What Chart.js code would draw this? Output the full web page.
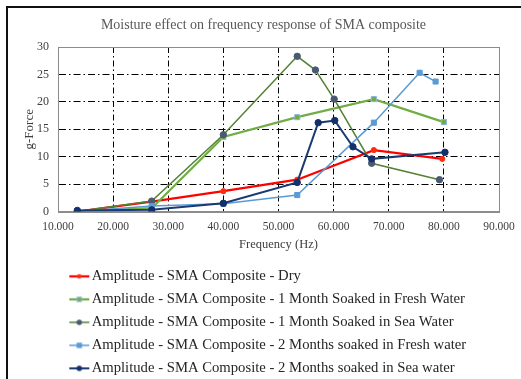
<!DOCTYPE html>
<html>
<head>
<meta charset="utf-8">
<script src="https://cdn.jsdelivr.net/npm/chart.js@4.4.1/dist/chart.umd.min.js"></script>
<style>
    html, body { margin: 0; padding: 0; background: #fff; overflow: hidden; }
    #wrap { position: relative; width: 521px; height: 392px; }
    #frame { position: absolute; left: 6px; top: 6px; width: 540px; height: 384px; border: 2px solid #111; box-sizing: border-box; pointer-events: none; }
</style>
</head>
<body>
<div id="wrap">
    <canvas id="freqChart" width="521" height="392"></canvas>
    <div id="frame"></div>
</div>
<script>
// Data
const seriesNames = [
    'Amplitude - SMA Composite - Dry',
    'Amplitude - SMA Composite - 1 Month Soaked in Fresh Water',
    'Amplitude - SMA Composite - 1 Month Soaked in Sea Water',
    'Amplitude - SMA Composite - 2 Months soaked in Fresh water',
    'Amplitude - SMA Composite - 2 Months soaked in Sea water'
];

const dryFreq = [13500, 27000, 40000, 53400, 67300, 79700];
const dryAmp = [0, 1.8, 3.7, 5.8, 11.2, 9.6];

const fresh1Freq = [13500, 27000, 40000, 53400, 67300, 80000];
const fresh1Amp = [0, 0.6, 13.6, 17.2, 20.5, 16.3];

const sea1Freq = [13500, 27000, 40000, 53400, 56700, 60100, 66900, 79200];
const sea1Amp = [0, 1.9, 14.0, 28.3, 25.8, 20.5, 8.8, 5.8];

const fresh2Freq = [13500, 27000, 40000, 53400, 67300, 75600, 78500];
const fresh2Amp = [0, 1.0, 1.4, 3.0, 16.2, 25.3, 23.7];

const sea2Freq = [13500, 27000, 40000, 53400, 57200, 60200, 63500, 66900, 80200];
const sea2Amp = [0.2, 0.3, 1.5, 5.3, 16.2, 16.6, 11.8, 9.6, 10.8];

const xTicks = [10000, 20000, 30000, 40000, 50000, 60000, 70000, 80000, 90000];
const yTicks = [0, 5, 10, 15, 20, 25, 30];

const FONT = 'Liberation Serif';

function toPoints(xs, ys) {
    return xs.map((x, i) => ({ x: x, y: ys[i] }));
}

// Line styles per series
const styles = [
    { line: '#FF0000', width: 2.25, fill: '#FF2A10', edge: '#FF2A10', shape: 'circle', r: 2.6 },
    { line: '#70AD47', width: 2.25, fill: '#70AD47', edge: '#8FB4DE', shape: 'rect', r: 3.6 },
    { line: '#548235', width: 1.5, fill: '#4A5A70', edge: '#4A5A70', shape: 'circle', r: 3.2 },
    { line: '#5B9BD5', width: 1.5, fill: '#5B9BD5', edge: '#5B9BD5', shape: 'rect', r: 3.6 },
    { line: '#1B3A72', width: 2, fill: '#13306A', edge: '#13306A', shape: 'circle', r: 3.2 }
];

const allData = [
    toPoints(dryFreq, dryAmp),
    toPoints(fresh1Freq, fresh1Amp),
    toPoints(sea1Freq, sea1Amp),
    toPoints(fresh2Freq, fresh2Amp),
    toPoints(sea2Freq, sea2Amp)
];

// Small legend swatch: line with marker in the middle
function makeSwatch(st) {
    const c = document.createElement('canvas');
    c.width = 80;
    c.height = 12;
    const g = c.getContext('2d');
    g.strokeStyle = st.line;
    g.lineWidth = st.width;
    g.beginPath();
    g.moveTo(58, 6);
    g.lineTo(78, 6);
    g.stroke();
    g.fillStyle = st.fill;
    g.strokeStyle = st.edge;
    g.lineWidth = 1;
    if (st.shape === 'circle') {
        g.beginPath();
        g.arc(68, 6, st.r * 0.85, 0, Math.PI * 2);
        g.fill();
    } else {
        const s = st.r * 1.2;
        g.fillRect(68 - s / 2, 6 - s / 2, s, s);
        g.strokeRect(68 - s / 2, 6 - s / 2, s, s);
    }
    return c;
}

const datasets = allData.map((pts, i) => {
    const st = styles[i];
    return {
        label: seriesNames[i],
        data: pts,
        borderColor: st.line,
        borderWidth: st.width,
        backgroundColor: st.fill,
        pointBackgroundColor: st.fill,
        pointBorderColor: st.edge,
        pointBorderWidth: 1,
        pointStyle: st.shape,
        pointRadius: st.r,
        pointHoverRadius: st.r,
        tension: 0,
        fill: false,
        order: 4 - i // later series drawn on top, like the original
    };
});

// Gray box round the plot area
const plotBorder = {
    id: 'plotBorder',
    beforeDatasetsDraw(chart) {
        const a = chart.chartArea;
        const ctx = chart.ctx;
        ctx.save();
        ctx.strokeStyle = '#8C8C8C';
        ctx.lineWidth = 1;
        ctx.strokeRect(Math.round(a.left) + 0.5, Math.round(a.top) + 0.5,
            Math.round(a.right - a.left), Math.round(a.bottom - a.top));
        ctx.restore();
    }
};

new Chart(document.getElementById('freqChart'), {
    type: 'line',
    data: { datasets: datasets },
    plugins: [plotBorder],
    options: {
        responsive: false,
        animation: false,
        layout: { padding: { left: 10, right: 4, top: 8, bottom: 6.3 } },
        plugins: {
            title: {
                display: true,
                text: 'Moisture effect on frequency response of SMA composite',
                color: '#595959',
                font: { family: FONT, size: 14, weight: 'normal', lineHeight: 1.2 },
                padding: { top: 8.6, bottom: 13.6 }
            },
            legend: {
                position: 'bottom',
                align: 'start',
                labels: {
                    usePointStyle: true,
                    pointStyleWidth: 66,
                    padding: 8.3,
                    color: '#262626',
                    font: { family: FONT, size: 14.7 },
                    generateLabels: () => seriesNames.map((name, i) => ({
                        text: name,
                        pointStyle: makeSwatch(styles[i]),
                        fillStyle: styles[i].fill,
                        strokeStyle: styles[i].line,
                        lineWidth: 0,
                        hidden: false,
                        datasetIndex: i,
                        fontColor: '#262626'
                    }))
                }
            },
            tooltip: { enabled: false }
        },
        scales: {
            x: {
                type: 'linear',
                min: xTicks[0],
                max: xTicks[xTicks.length - 1],
                afterBuildTicks: s => { s.ticks = xTicks.map(v => ({ value: v })); },
                afterFit: s => { s.height = 49.2; s.paddingRight = 22; },
                grid: { color: '#000', lineWidth: 1, drawTicks: false },
                border: { color: '#8C8C8C', dash: [6, 3, 1.5, 3] },
                ticks: {
                    padding: 9,
                    color: '#404040',
                    font: { family: FONT, size: 11.5 },
                    maxRotation: 0,
                    callback: v => (v / 1000).toFixed(3)
                },
                title: {
                    display: true,
                    text: 'Frequency (Hz)',
                    color: '#404040',
                    font: { family: FONT, size: 12.5 },
                    padding: { top: 2, bottom: 8.7 }
                }
            },
            y: {
                min: yTicks[0],
                max: yTicks[yTicks.length - 1],
                afterBuildTicks: s => { s.ticks = yTicks.map(v => ({ value: v })); },
                afterFit: s => { s.width = 48; },
                grid: { color: '#000', lineWidth: 1, drawTicks: false },
                border: { color: '#8C8C8C', dash: [7, 3, 1.5, 3] },
                ticks: {
                    padding: 9,
                    color: '#404040',
                    font: { family: FONT, size: 12 }
                },
                title: {
                    display: true,
                    text: 'g-Force',
                    color: '#404040',
                    font: { family: FONT, size: 13 },
                    padding: { top: 12.2, bottom: 0 }
                }
            }
        }
    }
});
</script>
</body>
</html>
